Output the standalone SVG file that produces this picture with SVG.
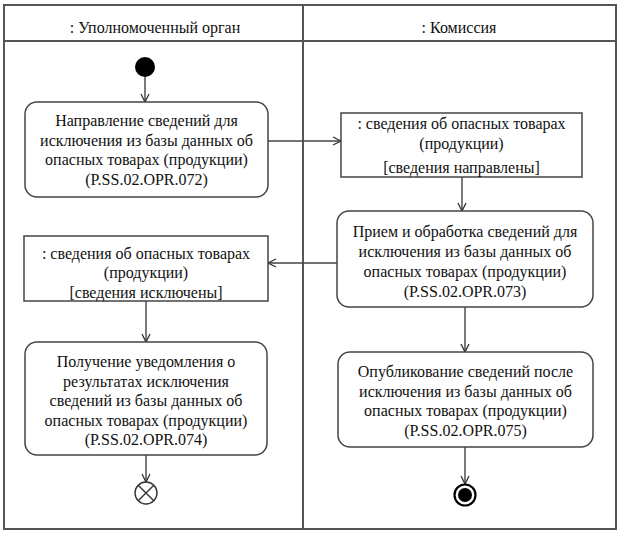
<svg xmlns="http://www.w3.org/2000/svg" width="621" height="533" viewBox="0 0 621 533">
<defs>
<marker id="arr" markerUnits="userSpaceOnUse" markerWidth="12" markerHeight="12" refX="9" refY="5" orient="auto">
<path d="M1,1 L9,5 L1,9" fill="none" stroke="#333" stroke-width="1.3"/>
</marker>
</defs>
<style>
.frame{fill:none;stroke:#555;stroke-width:2}
.node{fill:#fff;stroke:#444;stroke-width:1.5}
.t{font-family:'Liberation Serif','Times New Roman',Times,'DejaVu Serif',serif;font-size:16px;fill:#111;text-anchor:middle}
.c{fill:none;stroke:#444;stroke-width:1.4;marker-end:url(#arr)}
</style>
<rect width="621" height="533" fill="#fff"/>
<g id="swimlanes">
<rect class="frame" x="4" y="5" width="612" height="524"/>
<line class="frame" x1="4" y1="41" x2="616" y2="41"/>
<line class="frame" x1="303" y1="5" x2="303" y2="529"/>
<text class="t" x="155" y="33">: Уполномоченный орган</text>
<text class="t" x="459" y="33">: Комиссия</text>
</g>
<g id="connectors">
<line class="c" x1="145" y1="77" x2="145" y2="102"/>
<line class="c" x1="268" y1="141" x2="341" y2="141"/>
<line class="c" x1="462" y1="177" x2="462" y2="211"/>
<line class="c" x1="337" y1="263" x2="268" y2="263"/>
<line class="c" x1="146" y1="301" x2="146" y2="342"/>
<line class="c" x1="146" y1="455" x2="146" y2="482"/>
<line class="c" x1="465" y1="307" x2="465" y2="352"/>
<line class="c" x1="465" y1="447" x2="465" y2="484"/>
</g>
<g id="start">
<circle cx="145" cy="67" r="10" fill="#000"/>
</g>
<g id="act1">
<rect class="node" x="25" y="102" width="243" height="95" rx="12"/>
<text class="t" x="146.5" y="126">Направление сведений для</text>
<text class="t" x="146.5" y="145.5">исключения из базы данных об</text>
<text class="t" x="146.5" y="165">опасных товарах (продукции)</text>
<text class="t" x="146.5" y="184.5">(P.SS.02.OPR.072)</text>
</g>
<g id="obj1">
<rect class="node" x="341" y="113" width="241" height="64"/>
<text class="t" x="461.5" y="129">: сведения об опасных товарах</text>
<text class="t" x="461.5" y="149">(продукции)</text>
<text class="t" x="461.5" y="173">[сведения направлены]</text>
</g>
<g id="act2">
<rect class="node" x="337" y="211" width="256" height="96" rx="12"/>
<text class="t" x="465" y="237">Прием и обработка сведений для</text>
<text class="t" x="465" y="257">исключения из базы данных об</text>
<text class="t" x="465" y="277">опасных товарах (продукции)</text>
<text class="t" x="465" y="297">(P.SS.02.OPR.073)</text>
</g>
<g id="obj2">
<rect class="node" x="24" y="236" width="244" height="65"/>
<text class="t" x="146" y="259">: сведения об опасных товарах</text>
<text class="t" x="146" y="278">(продукции)</text>
<text class="t" x="146" y="298">[сведения исключены]</text>
</g>
<g id="act3">
<rect class="node" x="25" y="342" width="242" height="113" rx="12"/>
<text class="t" x="146" y="367">Получение уведомления о</text>
<text class="t" x="146" y="386.5">результатах исключения</text>
<text class="t" x="146" y="406">сведений из базы данных об</text>
<text class="t" x="146" y="425.5">опасных товарах (продукции)</text>
<text class="t" x="146" y="445">(P.SS.02.OPR.074)</text>
</g>
<g id="act4">
<rect class="node" x="338" y="352" width="255" height="95" rx="12"/>
<text class="t" x="465.5" y="377">Опубликование сведений после</text>
<text class="t" x="465.5" y="397">исключения из базы данных об</text>
<text class="t" x="465.5" y="416">опасных товарах (продукции)</text>
<text class="t" x="465.5" y="436">(P.SS.02.OPR.075)</text>
</g>
<g id="flowfinal">
<circle cx="146" cy="493" r="11" fill="#fff" stroke="#333" stroke-width="1.4"/>
<path d="M138.2,485.2 L153.8,500.8 M153.8,485.2 L138.2,500.8" stroke="#333" stroke-width="1.4"/>
</g>
<g id="final">
<circle cx="465" cy="495" r="10.5" fill="#fff" stroke="#000" stroke-width="2.2"/>
<circle cx="465" cy="495" r="7" fill="#000"/>
</g>
</svg>
